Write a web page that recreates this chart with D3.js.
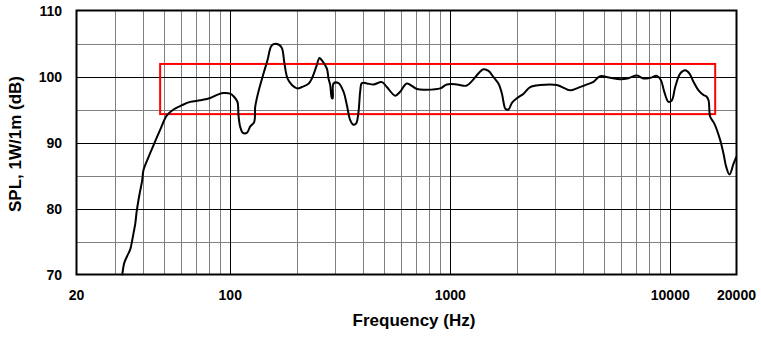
<!DOCTYPE html>
<html>
<head>
<meta charset="utf-8">
<script src="https://cdn.jsdelivr.net/npm/d3@7"></script>
<style>
  html, body { margin: 0; padding: 0; background: #fff; }
  svg { display: block; }
  text { font-family: "Liberation Sans", Arial, sans-serif; font-weight: bold; fill: #000; }
</style>
</head>
<body>
<svg id="chart" width="761" height="340"></svg>
<script>
// ---- Data ----
const freq = [32.3, 33.0, 34.0, 35.1, 35.7, 36.3, 37.0, 37.6, 38.7, 39.8, 40.3, 42.5, 44.8, 48.0, 51.5, 55.2, 60.3, 65.7, 73.0, 81.1, 88.4, 93.2, 99.9,
  104.2, 107.8, 109.0, 110.9, 114.1, 119.0, 123.1, 128.4, 129.8, 132.1, 136.8, 141.6, 147.7, 153.0, 157.3, 165.7, 171.7, 175.9,
  182.0, 190.6, 200.9, 211.7, 226.8, 235.0, 245.8, 254.4, 260.9, 274.9, 279.6, 284.6, 289.7, 292.2, 294.7, 310.5, 327.1, 338.9,
  350.9, 363.2, 373.6, 382.6, 389.5, 396.5, 417.8, 447.7, 489, 515, 562, 592, 635, 705, 783, 900, 965, 1072, 1182, 1254, 1321,
  1416, 1492, 1572, 1657, 1717, 1746, 1777, 1839, 1906, 2009, 2153, 2308, 2563, 3052, 3510, 3763, 4106, 4477, 4803, 5333, 5922,
  6459, 7053, 7556, 8106, 8696, 9068, 9386, 9815, 10170, 10530, 11090, 11690, 12230, 12750, 13440, 14160, 14570, 14920, 15190,
  15840, 16870, 17460, 17960, 18590, 19390, 19940];
const spl = [70.0, 71.8, 72.8, 73.8, 74.9, 76.2, 77.7, 79.7, 82.2, 84.3, 85.8, 87.8, 89.6, 91.9, 94.1, 95.0, 95.65, 96.15, 96.4, 96.75, 97.3, 97.5, 97.4,
  96.9, 96.15, 94.1, 92.4, 91.45, 91.45, 92.4, 93.1, 95.4, 96.7, 98.7, 100.45, 102.5, 104.5, 104.9, 104.85, 104.3, 102.2,
  99.7, 98.7, 98.2, 98.4, 98.9, 99.7, 101.45, 102.8, 102.45, 101.2, 99.7, 98.7, 96.7, 96.7, 98.95, 99.0, 97.7, 95.65,
  93.4, 92.7, 92.9, 94.6, 97.7, 99.0, 98.95, 98.8, 99.15, 98.4, 97.1, 97.7, 98.95, 98.1, 98.0, 98.2, 98.8, 98.8, 98.6, 99.3, 100.2,
  101.1, 100.85, 99.9, 98.9, 97.4, 96.15, 95.15, 95.0, 96.0, 96.7, 97.4, 98.4, 98.7, 98.7, 97.9, 98.2, 98.7, 99.2, 100.05, 99.8, 99.6,
  99.75, 100.15, 99.7, 99.8, 100.1, 99.45, 97.7, 96.15, 96.4, 98.4, 100.45, 100.95, 100.45, 99.2, 97.9, 97.2, 97.0, 96.4, 93.9,
  92.9, 90.35, 88.3, 86.3, 85.15, 86.8, 87.8];

const xTickValues = [20, 100, 1000, 10000, 20000];
const xTickLabels = ["20", "100", "1000", "10000", "20000"];
const yTickValues = [70, 80, 90, 100, 110];
const xMajorGrid = [100, 1000, 10000];
const xMinorGrid = [30, 40, 50, 60, 70, 80, 90, 200, 300, 400, 500, 600, 700, 800, 900,
  2000, 3000, 4000, 5000, 6000, 7000, 8000, 9000];
const yMajorGrid = [80, 90, 100];
const yMinorGrid = [75, 85, 95, 105];
const rectFreq = [48, 16000];
const rectSPL = [94.3, 101.9];
const xTitle = "Frequency (Hz)";
const yTitle = "SPL, 1W/1m (dB)";

// ---- Layout ----
const L = 76.5, R = 736.5, T = 10.5, B = 274.5;
const svg = d3.select("#chart");
const x = d3.scaleLog().domain([20, 20000]).range([L, R]);
const y = d3.scaleLinear().domain([70, 110]).range([B, T]);
const px = v => Math.round(x(v)) + 0.5;
const py = v => Math.round(y(v)) + 0.5;

const grid = svg.append("g");
grid.selectAll(".vmin").data(xMinorGrid).enter().append("line")
  .attr("x1", px).attr("x2", px).attr("y1", T).attr("y2", B)
  .attr("stroke", "#808080").attr("stroke-width", 1);
grid.selectAll(".hmin").data(yMinorGrid).enter().append("line")
  .attr("x1", L).attr("x2", R).attr("y1", py).attr("y2", py)
  .attr("stroke", "#808080").attr("stroke-width", 1);
grid.selectAll(".vmaj").data(xMajorGrid).enter().append("line")
  .attr("x1", px).attr("x2", px).attr("y1", T).attr("y2", B)
  .attr("stroke", "#000").attr("stroke-width", 1);
grid.selectAll(".hmaj").data(yMajorGrid).enter().append("line")
  .attr("x1", L).attr("x2", R).attr("y1", py).attr("y2", py)
  .attr("stroke", "#000").attr("stroke-width", 1);

// red tolerance rectangle
svg.append("rect")
  .attr("x", x(rectFreq[0])).attr("y", y(rectSPL[1]))
  .attr("width", x(rectFreq[1]) - x(rectFreq[0]))
  .attr("height", y(rectSPL[0]) - y(rectSPL[1]))
  .attr("fill", "none").attr("stroke", "#ff0000").attr("stroke-width", 2);

// curve
const line = d3.line().x((d, i) => x(freq[i])).y(d => y(d)).curve(d3.curveCatmullRom.alpha(0.5));
svg.append("path").datum(spl)
  .attr("d", line)
  .attr("fill", "none").attr("stroke", "#000").attr("stroke-width", 2)
  .attr("stroke-linejoin", "round").attr("stroke-linecap", "round");

// border
svg.append("rect").attr("x", L).attr("y", T).attr("width", R - L).attr("height", B - T)
  .attr("fill", "none").attr("stroke", "#000").attr("stroke-width", 2);

// axes labels
svg.append("g").selectAll("text").data(xTickValues).enter().append("text")
  .attr("x", d => x(d)).attr("y", 300)
  .attr("text-anchor", "middle").attr("font-size", 14)
  .text((d, i) => xTickLabels[i]);
svg.append("g").selectAll("text").data(yTickValues).enter().append("text")
  .attr("x", 62).attr("y", d => y(d)).attr("dy", "0.36em")
  .attr("text-anchor", "end").attr("font-size", 14)
  .text(d => d);

svg.append("text").attr("x", 414).attr("y", 326).attr("text-anchor", "middle")
  .attr("font-size", 17).text(xTitle);
svg.append("text").attr("transform", "translate(21,144) rotate(-90)")
  .attr("text-anchor", "middle").attr("font-size", 17).text(yTitle);
</script>
</body>
</html>
